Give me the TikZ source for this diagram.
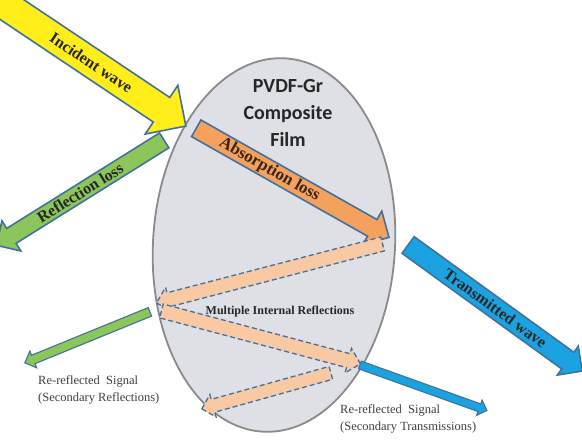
\documentclass[tikz,border=0pt]{standalone}
\usepackage{fontspec}
\setmainfont{Liberation Serif}
\newfontfamily\calib{Carlito}
\usetikzlibrary{shapes.geometric, shapes.arrows, calc}

\definecolor{edgeblue}{HTML}{41719C}
\definecolor{filmgray}{HTML}{DEE0E6}
\definecolor{filmedge}{HTML}{8A8A8A}
\definecolor{incyellow}{HTML}{FFEE1A}
\definecolor{reflgreen}{HTML}{8CC65A}
\definecolor{absorange}{HTML}{F4A15D}
\definecolor{transblue}{HTML}{1AA3E0}
\definecolor{peach}{HTML}{F9C9A4}

\begin{document}
\begin{tikzpicture}[
    x=1pt, y=-1pt,
    arr/.style  ={single arrow, draw=edgeblue, line width=1.6pt, inner xsep=0pt},
    thinarr/.style={single arrow, draw=edgeblue, line width=1.1pt, inner xsep=0pt},
    bounce/.style={single arrow, draw=edgeblue, fill=peach, line width=1.3pt,
                  dash pattern=on 5pt off 3pt, inner xsep=0pt},
    lbl/.style  ={font=\bfseries\fontsize{16}{18}\selectfont, text=black!85, inner sep=0pt},
    note/.style ={font=\fontsize{12.5}{17}\selectfont, text=black!75, align=left, inner sep=0pt},
]
\useasboundingbox (0,0) rectangle (582,440);
\fill[white] (0,0) rectangle (582,440);
\clip (0,0) rectangle (582,440);

% ---- Film ----
\node[ellipse, draw=filmedge, fill=filmgray, line width=1.8pt, inner sep=0pt,
      minimum width=242pt, minimum height=374pt, rotate=-3.5] (film) at (274,245) {};
\node[font=\calib\bfseries\fontsize{20}{27}\selectfont, align=center, text=black!85]
      (title) at (288,113) {PVDF-Gr\\Composite\\Film};

% ---- Main waves ----
\node[arr, fill=incyellow, rotate=-33.8, minimum height=228pt, inner ysep=14pt,
      single arrow head extend=14.5pt] (incident) at (85,58.5) {};
\node[arr, fill=reflgreen, rotate=212, minimum height=198pt, inner ysep=8pt,
      single arrow head extend=9pt] (reflect) at (84,190.5) {};
\node[arr, fill=absorange, rotate=-29.5, minimum height=221.5pt, inner ysep=8.75pt,
      single arrow head extend=9.75pt] (absorb) at (288.5,180.5) {};
\node[arr, fill=transblue, rotate=-35.9, minimum height=215pt, inner ysep=9.5pt,
      single arrow head extend=7.5pt] (transmit) at (491,305) {};

% ---- Internal reflections ----
\node[bounce, rotate=194.6, minimum height=233.6pt, inner ysep=6.5pt,
      single arrow head extend=5.5pt] (mir1) at (273,272.5) {};
\node[bounce, rotate=-14.9, minimum height=206pt, inner ysep=6.5pt,
      single arrow head extend=5.5pt] (mir2) at (257.5,336.5) {};
\node[bounce, rotate=195.6, minimum height=134pt, inner ysep=6pt,
      single arrow head extend=5pt] (mir3) at (269.5,390) {};

% ---- Secondary signals ----
\node[thinarr, fill=reflgreen, rotate=202.2, minimum height=135pt, inner ysep=4pt,
      single arrow head extend=4.5pt] (secrefl) at (89.5,336.5) {};
\node[thinarr, fill=transblue, rotate=-19.7, minimum height=135pt, inner ysep=3.5pt,
      single arrow head extend=4pt] (sectrans) at (421.5,387) {};

% ---- Labels ----
\path (incident.tail) -- (incident.tip) node[lbl, sloped, pos=0.5] (inctxt) {Incident wave};
\path (reflect.tail) -- (reflect.tip) node[lbl, sloped, pos=0.5] (refltxt) {Reflection loss};
\path (absorb.tail) -- (absorb.tip)
      node[lbl, sloped, pos=0.38, text={black!70!brown}, font=\bfseries\fontsize{17}{18}\selectfont] (abstxt) {Absorption loss};
\path (transmit.tail) -- (transmit.tip) node[lbl, sloped, pos=0.5] (transtxt) {Transmitted wave};

\node[lbl, font=\bfseries\fontsize{12}{14}\selectfont] (mirtxt) at (280,312) {Multiple Internal Reflections};
\node[note, anchor=west] (secrefltxt) at (38,390) {Re-reflected\ \ Signal\\(Secondary Reflections)};
\node[note, anchor=west] (sectranstxt) at (340,418.5) {Re-reflected\ \ Signal\\(Secondary Transmissions)};

\end{tikzpicture}
\end{document}
